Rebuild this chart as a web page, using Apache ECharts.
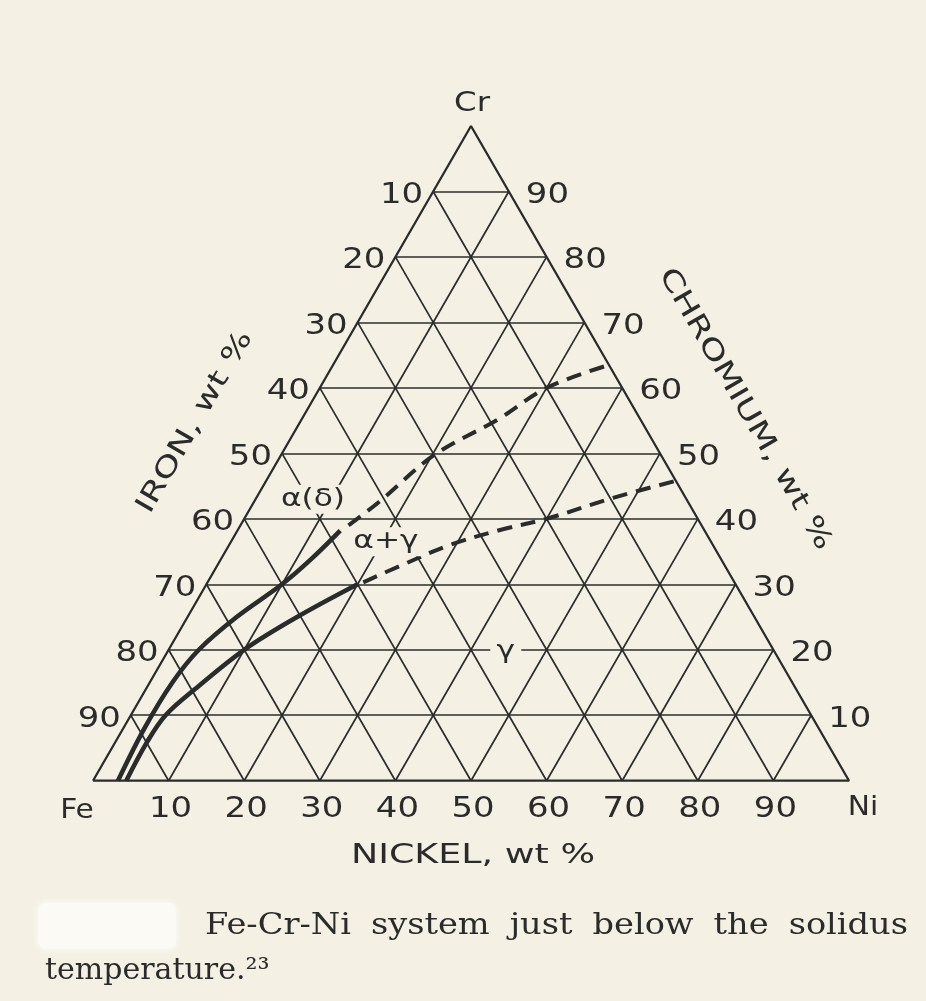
<!DOCTYPE html>
<html>
<head>
<meta charset="utf-8">
<script src="https://cdn.jsdelivr.net/npm/echarts@6/dist/echarts.min.js"></script>
<style>
  html, body { margin: 0; padding: 0; background: #f4f1e4; }
  #main { width: 926px; height: 1001px; }
</style>
</head>
<body>
<div id="main"></div>
<script>
// Tick values along the three sides (wt %)
const ironTicks = [10, 20, 30, 40, 50, 60, 70, 80, 90];
const chromiumTicks = [10, 20, 30, 40, 50, 60, 70, 80, 90];
const nickelTicks = [10, 20, 30, 40, 50, 60, 70, 80, 90];
const gridSteps = [10, 20, 30, 40, 50, 60, 70, 80, 90];

// Phase boundaries, each point as [Ni wt %, Cr wt %]
// alpha(delta) / alpha+gamma boundary
const alphaBoundarySolid = [[3.3, 0], [2.8, 8], [3.0, 15], [4.0, 20], [6.5, 25], [10, 30], [12, 34], [13.6, 38.2]];
const alphaBoundaryDashed = [[14.3, 39], [16.5, 42.5], [20.3, 49.8], [26, 55.2], [30, 60], [36.5, 63.5]];
// alpha+gamma / gamma boundary
const gammaBoundarySolid = [[4.4, 0], [4.2, 6], [4.6, 10], [6.5, 14], [10, 20], [14.5, 25], [20, 30]];
const gammaBoundaryDashed = [[20.6, 30.3], [24.2, 32.8], [29.2, 36.0], [34.7, 38.3], [40, 40], [47.2, 43.2], [54.2, 45.8]];

// Phase field labels, position as [Ni wt %, Cr wt %]
const phaseLabels = [
  { text: 'α(δ)', at: [7.6, 43.0] },
  { text: 'α+γ', at: [20.5, 36.5] },
  { text: 'γ', at: [44.7, 19.8] }
];

const captionLine1 = 'Fe-Cr-Ni system just below the solidus';
const captionLine2 = 'temperature.²³';

const PAPER = '#f4f1e4';
const INK = '#2b2b2b';
const SANS = '"DejaVu Sans", sans-serif';
const SERIF = '"DejaVu Serif", serif';
const H = Math.sqrt(3) / 2;

// ternary (Ni, Cr) -> cartesian data coordinates of an equilateral triangle
function tern(ni, cr) { return [ni + cr / 2, cr * H]; }
function mapPts(arr) { return arr.map(p => tern(p[0], p[1])); }

// grid segments of the three families of iso-lines
const gridSegments = [];
gridSteps.forEach(s => {
  gridSegments.push({ coords: [tern(0, s), tern(100 - s, s)] });          // constant Cr
  gridSegments.push({ coords: [tern(s, 0), tern(s, 100 - s)] });          // constant Ni
  gridSegments.push({ coords: [tern(100 - s, 0), tern(0, 100 - s)] });    // constant Fe
});

const chart = echarts.init(document.getElementById('main'), null, { renderer: 'canvas', width: 926, height: 1001 });

const curveStyle = (dashed) => ({
  color: INK, width: dashed ? 4 : 4.6, type: dashed ? [15, 9] : 'solid', cap: 'butt', join: 'round'
});

chart.setOption({
  backgroundColor: PAPER,
  animation: false,
  grid: { left: 93, top: 126, width: 756, height: 654.7, containLabel: false },
  xAxis: { type: 'value', min: 0, max: 100, show: false },
  yAxis: { type: 'value', min: 0, max: 100 * H, show: false },
  series: [
    {
      type: 'lines', coordinateSystem: 'cartesian2d', silent: true, clip: false, z: 1,
      lineStyle: { color: INK, width: 1.7, opacity: 1, curveness: 0 },
      data: gridSegments
    },
    {
      type: 'line', silent: true, clip: false, symbol: 'none', z: 2,
      lineStyle: { color: INK, width: 2.3 },
      data: [tern(0, 0), tern(100, 0), tern(0, 100), tern(0, 0)]
    },
    { type: 'line', name: 'alpha solid', symbol: 'none', smooth: 0.35, clip: false, z: 3,
      lineStyle: curveStyle(false), data: mapPts(alphaBoundarySolid) },
    { type: 'line', name: 'alpha dashed', symbol: 'none', smooth: 0.35, clip: false, z: 3,
      lineStyle: curveStyle(true), data: mapPts(alphaBoundaryDashed) },
    { type: 'line', name: 'gamma solid', symbol: 'none', smooth: 0.35, clip: false, z: 3,
      lineStyle: curveStyle(false), data: mapPts(gammaBoundarySolid) },
    { type: 'line', name: 'gamma dashed', symbol: 'none', smooth: 0.35, clip: false, z: 3,
      lineStyle: curveStyle(true), data: mapPts(gammaBoundaryDashed) }
  ]
});

function px(ni, cr) { return chart.convertToPixel({ gridIndex: 0 }, tern(ni, cr)); }

function label(text, p, opts) {
  const o = opts || {};
  const size = o.size || 29;
  const family = o.family || SANS;
  return {
    type: 'text', x: p[0], y: p[1], z: 100, zlevel: 0,
    rotation: o.rotation || 0,
    scaleX: o.scaleX || 1,
    style: {
      text: text,
      font: size + 'px ' + family,
      fill: INK,
      align: o.align || 'center', textAlign: o.align || 'center',
      verticalAlign: 'middle', textVerticalAlign: 'middle',
      backgroundColor: o.bg || null,
      padding: o.bg ? [2, 5] : 0
    }
  };
}

const graphics = [];

// side tick labels
ironTicks.forEach(f => {
  const p = px(0, 100 - f);
  graphics.push(label(String(f), [p[0] - 10, p[1] + 4], { align: 'right', scaleX: 1.17 }));
});
chromiumTicks.forEach(c => {
  const p = px(100 - c, c);
  graphics.push(label(String(c), [p[0] + 17, p[1] + 4], { align: 'left', scaleX: 1.17 }));
});
nickelTicks.forEach(n => {
  const p = px(n, 0);
  graphics.push(label(String(n), [p[0] + 2, p[1] + 29], { scaleX: 1.17 }));
});

// corner element symbols
const fe = px(0, 0), ni = px(100, 0), cr = px(0, 100);
graphics.push(label('Fe', [fe[0] - 16, fe[1] + 30], { size: 27, scaleX: 1.1 }));
graphics.push(label('Ni', [ni[0] + 14, ni[1] + 27], { size: 27, scaleX: 1.1 }));
graphics.push(label('Cr', [cr[0] + 1, cr[1] - 22], { size: 27, scaleX: 1.2 }));

// side titles
const leftMid = px(0, 50), rightMid = px(50, 50), baseMid = px(50, 0);
graphics.push(label('IRON, wt %', [leftMid[0] - 87, leftMid[1] - 31], { size: 27, scaleX: 1.35, rotation: Math.PI / 3 }));
graphics.push(label('CHROMIUM, wt %', [rightMid[0] + 85, rightMid[1] - 44], { size: 27, scaleX: 1.35, rotation: -Math.PI / 3 }));
graphics.push(label('NICKEL, wt %', [baseMid[0] + 2, baseMid[1] + 75], { size: 27, scaleX: 1.35 }));

// phase field names, masking the grid beneath them
phaseLabels.forEach(l => {
  const p = px(l.at[0], l.at[1]);
  graphics.push(label(l.text, p, { size: 25, scaleX: 1.25, bg: PAPER }));
});

// caption, first line justified between the margins
const capSize = 30, capScale = 1.12;
const measureCtx = document.createElement('canvas').getContext('2d');
measureCtx.font = capSize + 'px ' + SERIF;
const words = captionLine1.split(' ');
const widths = words.map(w => measureCtx.measureText(w).width * capScale);
const lineLeft = 205, lineRight = 908;
const gap = (lineRight - lineLeft - widths.reduce((a, b) => a + b, 0)) / (words.length - 1);
let cx = lineLeft;
words.forEach((w, i) => {
  graphics.push(label(w, [cx, 926], { family: SERIF, size: capSize, scaleX: capScale, align: 'left' }));
  cx += widths[i] + gap;
});
graphics.push(label(captionLine2, [45, 971], { family: SERIF, size: capSize, scaleX: 1.0, align: 'left' }));

// blank patch before the caption
graphics.unshift({
  type: 'rect', z: 99, shape: { x: 38, y: 903, width: 138, height: 46, r: 8 },
  style: { fill: '#fbfaf5', shadowBlur: 6, shadowColor: 'rgba(255,255,255,0.9)' }
});

chart.setOption({ graphic: graphics });
</script>
</body>
</html>
